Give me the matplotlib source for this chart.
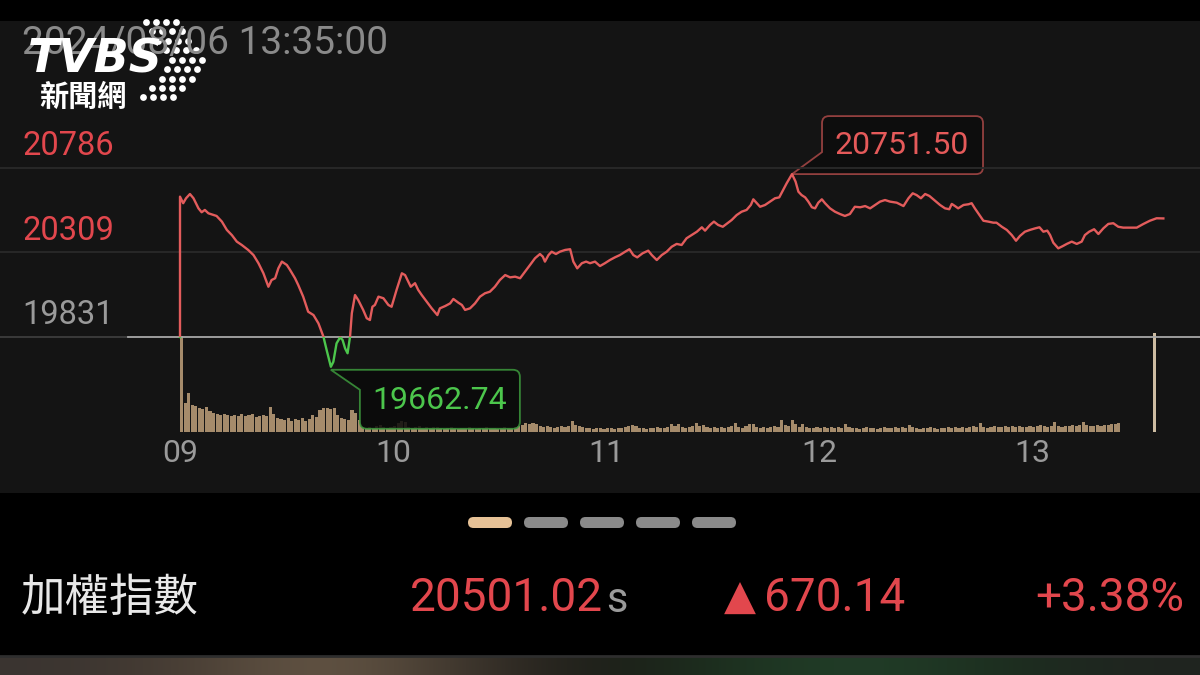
import matplotlib
matplotlib.use('Agg')
import matplotlib.pyplot as plt
from matplotlib.patches import Rectangle, FancyBboxPatch, PathPatch
from matplotlib.path import Path
from matplotlib.transforms import Affine2D, blended_transform_factory
from matplotlib.colors import to_rgb
import numpy as np

# ---- datos ----
ref_close = 19831
y_levels = [20786, 20309, 19831]
hour_minutes = [0, 60, 120, 180, 240]
hour_labels = ['09', '10', '11', '12', '13']

# minutos desde 09:00 e valor do indice
minutes = [0, 0, 0.9, 1.7, 2.8, 3.8, 5.2, 6.1, 7.0, 8.0, 10.3, 11.8, 13.2, 14.6, 16.0,
           17.4, 19.2, 20.7, 22.1, 23.5, 24.9, 25.8, 26.8, 27.7, 28.7, 30.1, 31.0,
           32.4, 33.3, 34.7, 36.1, 37.6, 39.0, 40.4, 41.3, 42.5, 43.2, 44.1, 45.1,
           45.8, 46.5, 47.2, 47.9, 48.4, 49.3, 50.2, 51.6, 52.6, 53.5, 54.2, 54.9,
           55.9, 57.3, 58.7, 59.6, 61.0, 62.5, 63.4, 64.3, 65.0, 66.2, 67.1, 68.1,
           69.5, 70.9, 72.5, 73.2, 74.7, 76.1, 77.0, 78.4, 79.4, 80.3, 81.7, 83.1,
           84.5, 85.9, 87.3, 88.7, 90.1, 91.6, 93.0, 94.4, 95.8, 97.2, 98.6, 100.0,
           101.4, 102.2, 102.8, 103.8, 104.7, 105.9, 107.0, 108.5, 109.9, 110.8,
           111.9, 113.2, 114.4, 115.5, 116.9, 118.3, 119.7, 121.1, 122.5, 123.9,
           125.4, 126.6, 127.7, 128.8, 130.3, 131.9, 132.9, 134.3, 135.7, 137.1,
           138.5, 139.9, 141.3, 142.7, 144.1, 145.6, 147.0, 147.9, 149.3, 150.4,
           151.6, 152.9, 154.2, 155.4, 156.8, 158.2, 159.6, 160.8, 161.5, 162.5,
           163.4, 164.8, 166.2, 167.6, 168.8, 169.9, 170.9, 172.4, 173.4, 174.2,
           175.1, 176.1, 177.0, 178.0, 178.9, 179.8, 180.8, 181.7, 183.1, 184.5,
           185.9, 187.3, 188.7, 190.1, 191.6, 193.0, 194.4, 195.8, 197.2, 198.6,
           200.0, 201.9, 203.8, 205.2, 206.4, 207.5, 208.7, 209.9, 211.1, 212.7,
           214.1, 215.5, 216.7, 217.4, 218.3, 219.2, 220.7, 222.1, 223.0, 223.9,
           225.2, 226.3, 227.7, 229.1, 230.0, 231.5, 232.9, 234.3, 235.5, 236.6,
           238.0, 239.4, 240.9, 242.1, 243.2, 244.3, 245.1, 246.0, 247.4, 248.7,
           249.8, 251.2, 252.6, 254.0, 254.9, 256.1, 257.5, 258.7, 260.1, 261.5,
           262.9, 264.3, 265.7, 267.6, 269.5, 271.4, 273.2, 275.1, 277.0]
prices = [19831, 20624, 20587, 20615, 20639, 20615, 20558, 20536, 20549, 20530, 20515,
          20483, 20436, 20407, 20370, 20351, 20323, 20294, 20248, 20191, 20115, 20153,
          20163, 20219, 20257, 20238, 20210, 20163, 20125, 20059, 19974, 19955, 19908,
          19833, 19758, 19662.74, 19691, 19795, 19829, 19814, 19767, 19739, 19833,
          19965, 20068, 20040, 19984, 19937, 19927, 20002, 20012, 20059, 20050, 20012,
          20002, 20097, 20191, 20181, 20144, 20115, 20135, 20097, 20068, 20031, 19993,
          19955, 19993, 20006, 20021, 20046, 20025, 20012, 19984, 19993, 20021, 20059,
          20078, 20087, 20115, 20153, 20181, 20168, 20172, 20163, 20200, 20238, 20276,
          20300, 20285, 20257, 20294, 20313, 20300, 20313, 20323, 20327, 20257, 20219,
          20248, 20257, 20248, 20257, 20232, 20248, 20266, 20281, 20294, 20313, 20327,
          20294, 20281, 20304, 20319, 20294, 20266, 20294, 20313, 20341, 20357, 20351,
          20389, 20407, 20426, 20451, 20432, 20464, 20483, 20464, 20454, 20474, 20492,
          20520, 20539, 20549, 20577, 20609, 20587, 20567, 20577, 20596, 20615, 20620,
          20662, 20700, 20751.50, 20709, 20652, 20633, 20620, 20596, 20564, 20558,
          20590, 20609, 20587, 20558, 20539, 20526, 20515, 20526, 20567, 20564, 20571,
          20558, 20577, 20596, 20605, 20596, 20590, 20571, 20615, 20643, 20633, 20615,
          20639, 20628, 20601, 20577, 20558, 20553, 20583, 20571, 20558, 20577, 20581,
          20587, 20558, 20520, 20488, 20483, 20477, 20477, 20454, 20436, 20407, 20375,
          20402, 20426, 20436, 20445, 20451, 20426, 20432, 20407, 20364, 20332, 20345,
          20357, 20370, 20357, 20370, 20407, 20426, 20440, 20413, 20445, 20470, 20474,
          20454, 20449, 20449, 20449, 20470, 20488, 20502, 20501.02]

# volume por minuto (unidade arbitraria, lida pela altura das barras)
volume = [96, 29, 39, 27, 26, 24, 23, 25, 21, 19,
          18, 17, 18, 17, 16, 17, 16, 18, 16, 17,
          18, 15, 16, 17, 16, 25, 18, 14, 13, 12,
          14, 11, 13, 12, 14, 11, 13, 17, 15, 22,
          24, 24, 23, 24, 17, 14, 13, 12, 22, 19,
          12, 5, 4, 5, 4, 6, 7, 5, 4, 5,
          6, 9, 11, 10, 5, 4, 5, 6, 4, 5,
          4, 5, 5, 4, 3, 4, 5, 4, 3, 4,
          4, 5, 4, 3, 4, 4, 5, 4, 4, 3,
          4, 5, 4, 4, 5, 6, 7, 9, 8, 9,
          8, 6, 5, 6, 5, 4, 5, 6, 5, 6,
          11, 7, 6, 5, 4, 4, 3, 4, 4, 3,
          4, 4, 3, 4, 4, 5, 6, 7, 6, 4,
          4, 3, 4, 4, 5, 4, 4, 5, 8, 6,
          8, 5, 4, 5, 6, 9, 6, 7, 5, 4,
          5, 4, 5, 4, 5, 6, 9, 5, 4, 6,
          8, 8, 5, 4, 5, 4, 5, 6, 5, 12,
          7, 6, 12, 8, 5, 8, 5, 4, 4, 5,
          4, 5, 4, 5, 4, 5, 4, 8, 5, 4,
          4, 3, 4, 5, 4, 4, 3, 4, 5, 4,
          4, 5, 4, 5, 4, 7, 5, 4, 3, 4,
          4, 5, 4, 3, 4, 4, 5, 4, 5, 4,
          5, 4, 5, 6, 5, 9, 5, 4, 5, 6,
          5, 5, 6, 5, 6, 5, 6, 5, 5, 6,
          5, 6, 7, 6, 5, 6, 10, 6, 5, 6,
          6, 7, 6, 7, 10, 7, 6, 6, 7, 6,
          7, 7, 8, 8, 9]
auction_minute = 274.6
auction_volume = 99

timestamp = '2024/08/06 13:35:00'
index_name = '加權指數'
last_price = '20501.02'
change = '670.14'
change_pct = '+3.38%'

# ---- layout (pixels da imagem 1200x675) ----
W, H = 1200, 675
x0_px = 180
px_per_min = 213 / 60
ref_px = 337
px_per_pt = (337 - 168) / (20786 - 19831)

RED = '#e2474d'
LINE_RED = '#e35c5c'
GREEN = '#4cc64c'
GREY = '#9a9a9a'
NUM = ['Roboto', 'DejaVu Sans']
CJK = ['Noto Sans CJK TC', 'DejaVu Sans']

fig = plt.figure(figsize=(12, 6.75), dpi=100)
fig.patch.set_facecolor('#000000')
pix = Affine2D().scale(1 / W, -1 / H).translate(0, 1) + fig.transFigure

bg = fig.add_axes([0, 0, 1, 1])
bg.set_xlim(0, W)
bg.set_ylim(H, 0)
bg.axis('off')
bg.add_patch(Rectangle((0, 21), W, 472, color='#141414', lw=0))

# faixa borrada de baixo
strip = ['#3a3430', '#4a3f35', '#6a5a48', '#3c342c', '#1a1a16', '#1d3320',
         '#22402a', '#1c2e1e', '#202420']
strip_img = np.array([[to_rgb(c) for c in strip]])
bg.imshow(strip_img, extent=(0, W, H, 657), aspect='auto', interpolation='bicubic')
bg.plot([0, W], [656, 656], color='#2e2e2e', lw=2)

# timestamp + logo (o logo fica por cima do timestamp, como na tela)
bg.text(22, 44, timestamp, color='#8a8a8a', fontsize=28, va='center', family=NUM)
dot_rows = [(22, 146, 4), (31, 152, 4), (41, 158, 4), (50, 166, 4), (60, 172, 4),
            (69, 167, 4), (79, 162, 4), (88, 152, 4), (97, 143, 4)]
for yy, xs, n in dot_rows:
    bg.scatter([xs + 10 * k for k in range(n)], [yy] * n, s=24, color='white', lw=0)
bg.text(28, 60, 'TVBS', color='white', fontsize=33, fontweight='heavy', style='italic',
        va='center', family=['DejaVu Sans'])
bg.text(39, 97, '新聞網', color='white', fontsize=21, fontweight='bold', va='center', family=CJK)

# indicador de paginas
pill_x = [468, 524, 580, 636, 692]
for i, px in enumerate(pill_x):
    bg.add_patch(FancyBboxPatch((px, 517), 44, 11, boxstyle='round,pad=0,rounding_size=5.5',
                                color='#e6c196' if i == 0 else '#8a8a8a', lw=0))

# linha de cotacao
bg.text(21, 598, index_name, color='#e8e8e8', fontsize=32, va='center', family=CJK)
bg.text(410, 598, last_price, color=RED, fontsize=33, va='center', family=NUM)
bg.text(606, 600, 's', color=GREY, fontsize=30, va='center', family=NUM)
bg.text(724, 598, '▲', color=RED, fontsize=30, va='center', family=['DejaVu Sans'])
bg.text(764, 598, change, color=RED, fontsize=33, va='center', family=NUM)
bg.text(1184, 598, change_pct, color=RED, fontsize=33, va='center', ha='right', family=NUM)

xlim = (-x0_px / px_per_min, (W - x0_px) / px_per_min)

# volume
axv = fig.add_axes([0, 1 - 432 / H, 1, 100 / H])
axv.set_xlim(*xlim)
axv.set_ylim(0, 100)
axv.axis('off')
axv.bar(np.arange(len(volume)), volume, width=0.88, color='#a58b6b', lw=0, align='edge')
axv.bar([auction_minute], [auction_volume], width=0.8, color='#cdbca2', lw=0)

# preco
ax = fig.add_axes([0, 0, 1, 1])
ax.patch.set_alpha(0)
ax.axis('off')
ax.set_xlim(*xlim)
ax.set_ylim(ref_close - (H - ref_px) / px_per_pt, ref_close + ref_px / px_per_pt)

for lv in y_levels[:2]:
    ax.axhline(lv, color='#2a2a2a', lw=1.3)
ax.axhline(ref_close, xmin=0, xmax=128 / W, color='#3e3e3e', lw=1.3)
ax.axhline(ref_close, xmin=128 / W, xmax=1, color='#a8a8a8', lw=1.3)

ylab = blended_transform_factory(ax.transAxes, ax.transData)
for lv in y_levels:
    ax.annotate(str(lv), xy=(22 / W, lv), xycoords=ylab, xytext=(0, 15.5),
                textcoords='offset points', va='center', ha='left', fontsize=23.5,
                color=RED if lv > ref_close else GREY, family=NUM)

xlab = blended_transform_factory(ax.transData, pix)
for m, lbl in zip(hour_minutes, hour_labels):
    ax.text(m, 453, lbl, transform=xlab, ha='center', va='center', fontsize=23,
            color=GREY, family=NUM)

big = 10000
up = Rectangle((xlim[0], ref_close), xlim[1] - xlim[0], big, transform=ax.transData)
down = Rectangle((xlim[0], ref_close - big), xlim[1] - xlim[0], big, transform=ax.transData)
l1, = ax.plot(minutes, prices, color=LINE_RED, lw=1.7, solid_joinstyle='round')
l1.set_clip_path(up)
l2, = ax.plot(minutes, prices, color=GREEN, lw=1.7, solid_joinstyle='round')
l2.set_clip_path(down)


def to_px(m, p):
    d = ax.transData.transform((m, p))
    return d[0], H - d[1]


def rounded(pts, r):
    # pts: lista de (x, y, arredonda?)
    verts, codes = [], []
    n = len(pts)
    for i, (x, y, rnd) in enumerate(pts):
        if not rnd:
            verts.append((x, y))
            codes.append(Path.MOVETO if i == 0 else Path.LINETO)
            continue
        px_, py_, _ = pts[i - 1]
        nx_, ny_, _ = pts[(i + 1) % n]
        v1 = np.array([px_ - x, py_ - y]); v1 = v1 / np.hypot(*v1)
        v2 = np.array([nx_ - x, ny_ - y]); v2 = v2 / np.hypot(*v2)
        verts += [(x + v1[0] * r, y + v1[1] * r), (x, y), (x + v2[0] * r, y + v2[1] * r)]
        codes += [Path.LINETO, Path.CURVE3, Path.CURVE3]
    verts.append(verts[0])
    codes.append(Path.CLOSEPOLY)
    return Path(verts, codes)


# balao da maxima
hi_i = int(np.argmax(prices))
hx, hy = to_px(minutes[hi_i], prices[hi_i])
hi_path = rounded([(hx, hy, False), (hx + 30, hy - 22, False), (hx + 30, hy - 58, True),
                   (hx + 191, hy - 58, True), (hx + 191, hy, True)], 7)
ax.add_patch(PathPatch(hi_path, transform=pix, facecolor='#0d0d0d', edgecolor='#93403f', lw=1.3))
ax.text(hx + 110, hy - 29, f'{prices[hi_i]:.2f}', transform=pix, ha='center', va='center',
        fontsize=23, color='#e55a5a', family=NUM)

# balao da minima
lo_i = int(np.argmin(prices))
lx, ly = to_px(minutes[lo_i], prices[lo_i])
lo_path = rounded([(lx, ly + 3, False), (lx + 189, ly + 3, True), (lx + 189, ly + 62, True),
                   (lx + 29, ly + 62, True), (lx + 29, ly + 23, False)], 7)
ax.add_patch(PathPatch(lo_path, transform=pix, facecolor='#0a0a0a', alpha=0.85,
                       edgecolor='#3d9a3d', lw=1.3))
ax.text(lx + 109, ly + 34, f'{prices[lo_i]:.2f}', transform=pix, ha='center', va='center',
        fontsize=23, color=GREEN, family=NUM)

plt.savefig('out.png', dpi=100, facecolor=fig.get_facecolor())
